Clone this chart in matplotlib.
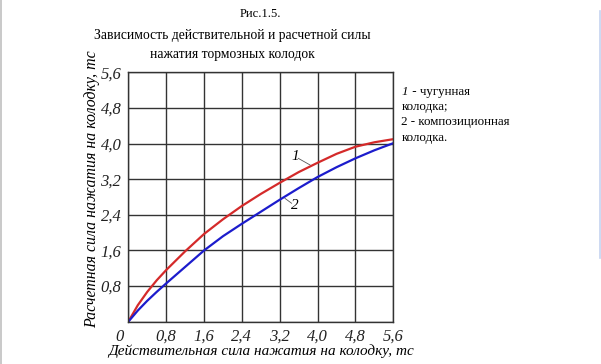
import matplotlib.pyplot as plt
import matplotlib.transforms as mtransforms

# Values
force_actual = [0, 0.2, 0.4, 0.6, 0.8, 1.2, 1.6, 2.0, 2.4, 2.8, 3.2, 3.6, 4.0, 4.4, 4.8, 5.2, 5.6]
force_cast_iron = [0, 0.37, 0.67, 0.93, 1.16, 1.58, 1.97, 2.30, 2.60, 2.87, 3.12, 3.36, 3.57, 3.77, 3.93, 4.03, 4.10]
force_composite = [0, 0.25, 0.47, 0.67, 0.86, 1.23, 1.60, 1.92, 2.20, 2.47, 2.74, 3.00, 3.25, 3.47, 3.67, 3.85, 4.01]
ticks = [0, 0.8, 1.6, 2.4, 3.2, 4.0, 4.8, 5.6]

serif = ['Liberation Serif', 'DejaVu Serif']

fig = plt.figure(figsize=(6.01, 3.64), dpi=100)
ax = fig.add_axes([0.2135, 0.1162, 0.441, 0.685])

ax.plot(force_actual, force_cast_iron, color='#d42a2a', lw=1.6)
ax.plot(force_actual, force_composite, color='#1c1ccc', lw=1.6)

ax.set_xlim(0, 5.6)
ax.set_ylim(0, 5.6)
ax.set_xticks(ticks)
ax.set_yticks(ticks)
ax.set_xticklabels([f'{t:.1f}'.replace('.', ',') if t else '0' for t in ticks],
                   family=serif, style='italic', fontsize=12)
ax.set_yticklabels([f'{t:.1f}'.replace('.', ',') if t else '' for t in ticks],
                   family=serif, style='italic', fontsize=12)
ax.tick_params(length=0, colors='#222222')
ax.tick_params(axis='x', pad=5)
ax.tick_params(axis='y', pad=5)
# the "0" sits left of the corner
zero_lbl = ax.get_xticklabels()[0]
zero_lbl.set_transform(zero_lbl.get_transform() +
                       mtransforms.ScaledTranslation(-0.09, 0, fig.dpi_scale_trans))
ax.grid(True, color='#333333', lw=1.0)
for s in ax.spines.values():
    s.set_color('#333333')
    s.set_linewidth(1.0)

ax.set_xlabel('Действительная сила нажатия на колодку, тс', family=serif,
              style='italic', fontsize=11, labelpad=0)
ax.set_ylabel('Расчетная сила нажатия на колодку, тс', family=serif,
              style='italic', fontsize=11.4, labelpad=0)
ax.yaxis.label.set_y(0.53)

# curve labels with leaders
ax.text(3.52, 3.71, '1', family=serif, style='italic', fontsize=11, ha='center', va='center')
ax.plot([3.59, 3.84], [3.67, 3.52], color='#555555', lw=0.6)
ax.text(3.52, 2.62, '2', family=serif, style='italic', fontsize=11, ha='center', va='center')
ax.plot([3.31, 3.45], [2.77, 2.66], color='#555555', lw=0.6)

fig.text(0.433, 0.962, 'Рис.1.5.', family=serif, fontsize=9, ha='center', va='center')
fig.text(0.387, 0.903, 'Зависимость действительной и расчетной силы',
         family=serif, fontsize=9.8, ha='center', va='center')
fig.text(0.387, 0.851, 'нажатия тормозных колодок',
         family=serif, fontsize=9.8, ha='center', va='center')

# side legend text
legend_y = [0.748, 0.707, 0.665, 0.620]
fig.text(0.668, legend_y[0], '1', family=serif, style='italic', fontsize=9.4, va='center')
fig.text(0.680, legend_y[0], ' - чугунная', family=serif, fontsize=9.4, va='center')
fig.text(0.668, legend_y[1], 'колодка;', family=serif, fontsize=9.4, va='center')
fig.text(0.668, legend_y[2], '2 - композиционная', family=serif, fontsize=9.4, va='center')
fig.text(0.668, legend_y[3], 'колодка.', family=serif, fontsize=9.4, va='center')

# window edges seen in the screenshot
fig.add_artist(plt.Line2D([0.998, 0.998], [0.29, 0.97], color='#c5d3f0', lw=1.2))
fig.add_artist(plt.Line2D([0.001, 0.001], [0, 1], color='#c0c0c0', lw=1.2))

fig.savefig('out.png', dpi=100)
